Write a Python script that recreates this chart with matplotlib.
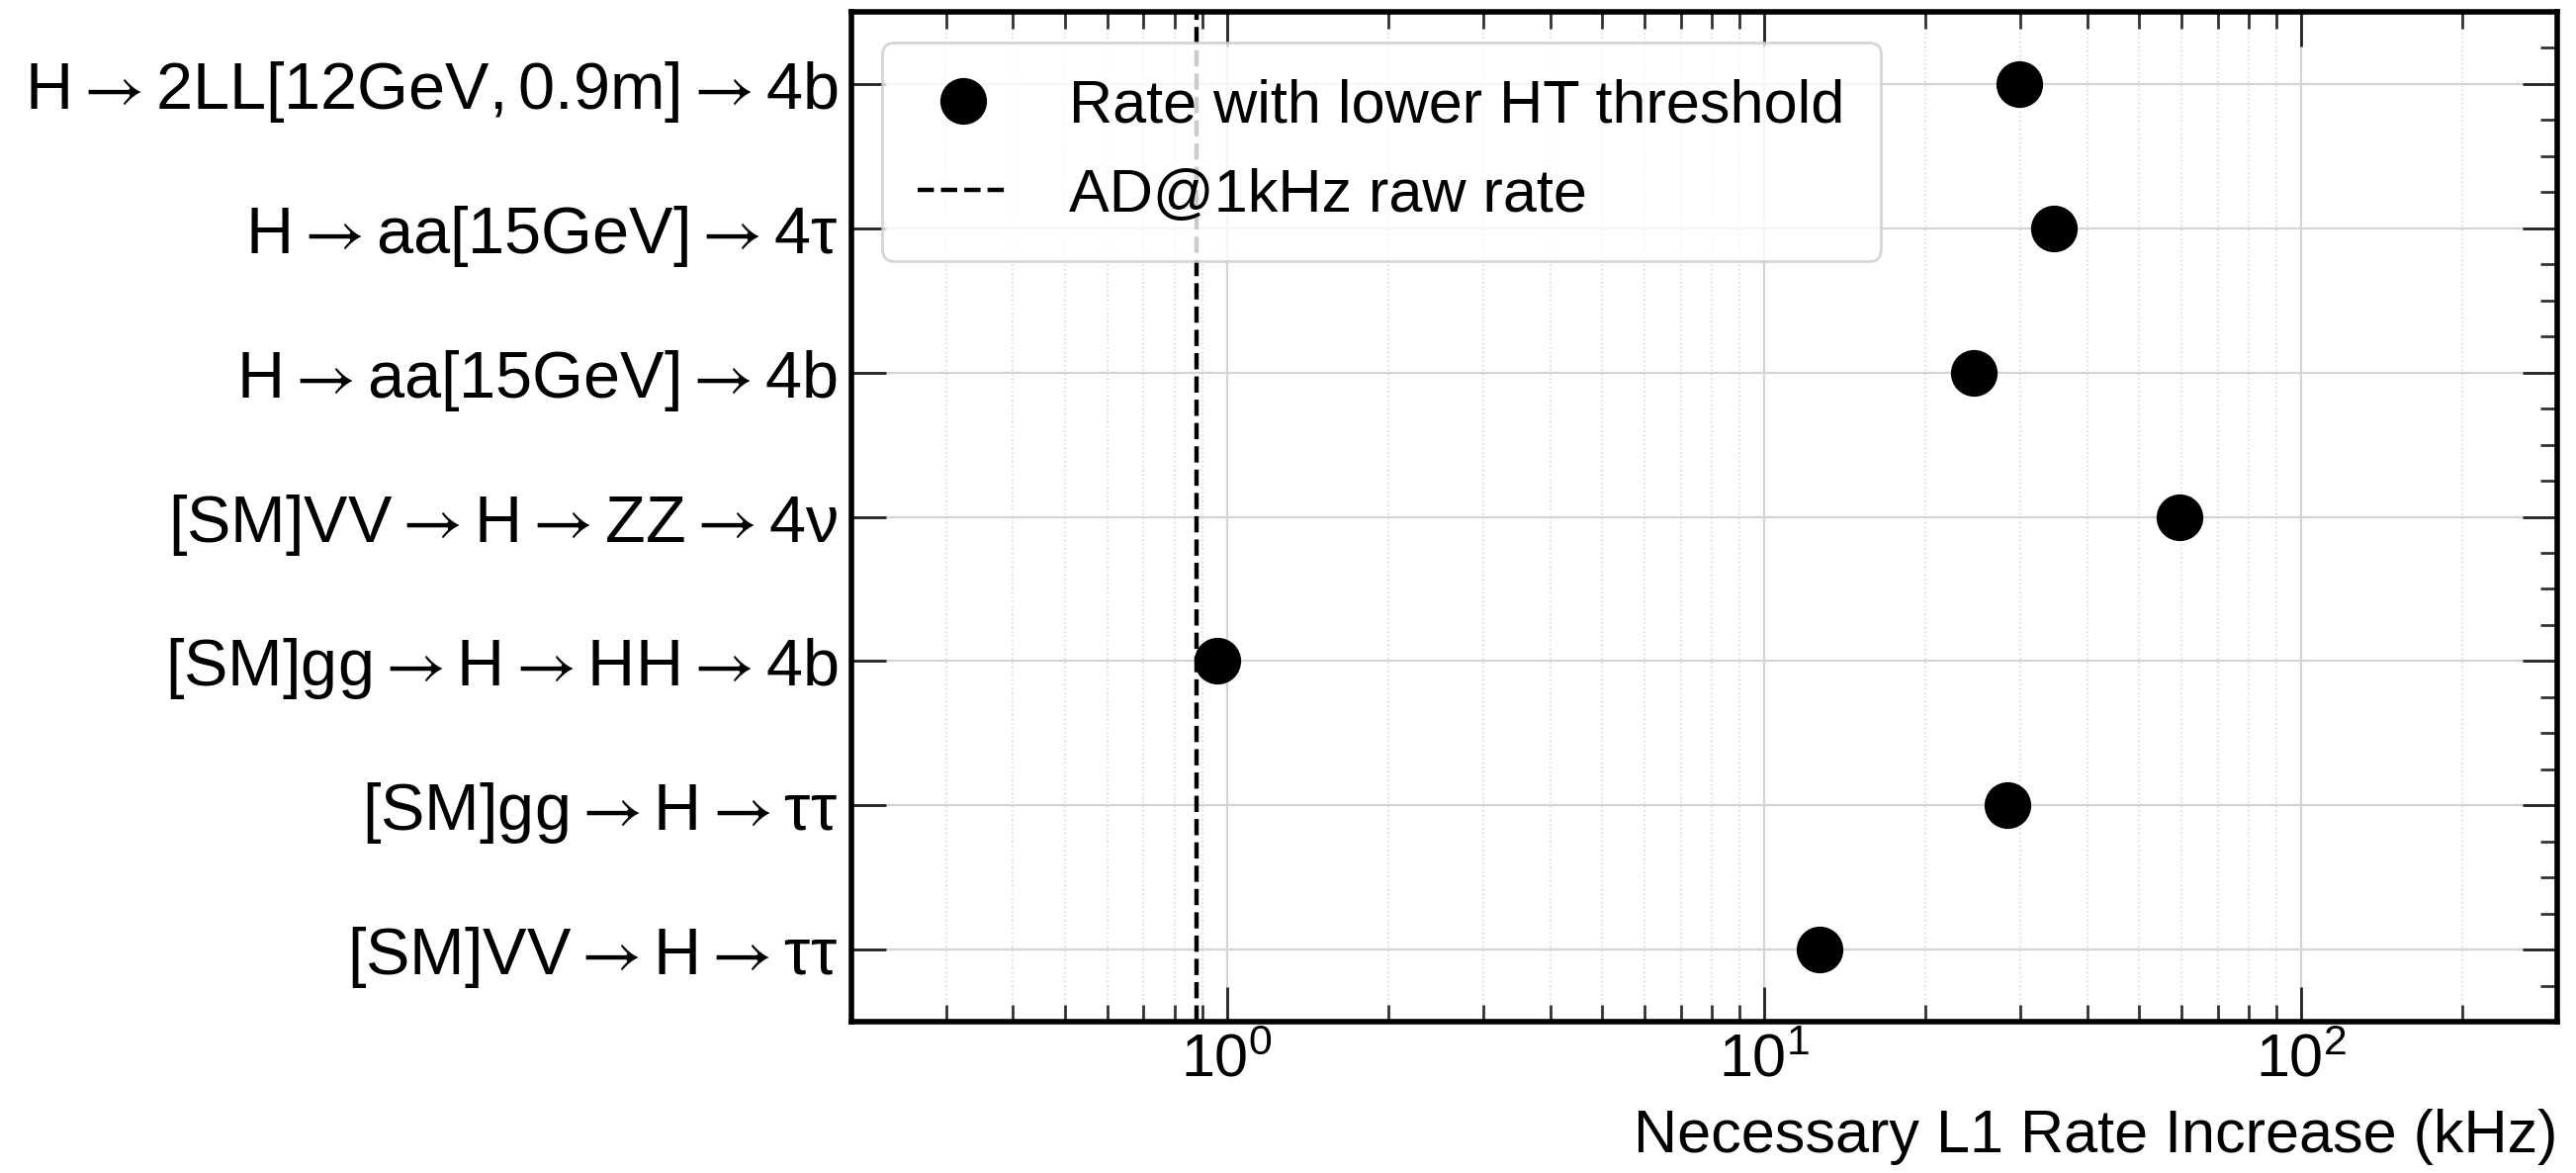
import matplotlib
matplotlib.use("Agg")
import matplotlib.pyplot as plt
from matplotlib.ticker import AutoMinorLocator, LogLocator, NullFormatter
import numpy as np

# ---- data ----
A = r"\mathsf{\rightarrow}"
categories = [
    r"$H " + A + r" 2LL[12GeV, 0.9m] " + A + r" 4b$",
    r"$H " + A + r" aa[15GeV] " + A + r" 4\tau$",
    r"$H " + A + r" aa[15GeV] " + A + r" 4b$",
    r"$[SM]VV " + A + r" H " + A + r" ZZ " + A + r" 4\nu$",
    r"$[SM]gg " + A + r" H " + A + r" HH " + A + r" 4b$",
    r"$[SM]gg " + A + r" H " + A + r" \tau\tau$",
    r"$[SM]VV " + A + r" H " + A + r" \tau\tau$",
]
rate_increase = [29.9, 34.7, 24.6, 59.3, 0.96, 28.4, 12.7]
ad_raw_rate = 0.88
series_label = "Rate with lower HT threshold"
line_label = "AD@1kHz raw rate"
x_label = "Necessary L1 Rate Increase (kHz)"

# ---- style ----
plt.rcParams["font.family"] = ["Liberation Sans", "DejaVu Sans"]
plt.rcParams["mathtext.fontset"] = "custom"
plt.rcParams["mathtext.rm"] = "Liberation Sans"
plt.rcParams["mathtext.it"] = "Liberation Sans"
plt.rcParams["mathtext.bf"] = "Liberation Sans:bold"
plt.rcParams["mathtext.sf"] = "STIXGeneral"

fig = plt.figure(figsize=(13.025, 5.93), dpi=200)
ax = fig.add_axes([861 / 2605, 1 - 1033 / 1186, (2586 - 861) / 2605, (1033 - 12) / 1186])

ypos = np.arange(len(categories))
ax.plot(rate_increase, ypos, "o", color="black", markersize=16, ls="none",
        label=series_label, zorder=3)
ax.axvline(ad_raw_rate, color="black", ls="--", lw=1.6, label=line_label, zorder=2)

ax.set_xscale("log")
ax.set_xlim(0.2, 300)
ax.set_ylim(len(categories) - 0.5, -0.5)

ax.set_yticks(ypos)
ax.set_yticklabels(categories, fontsize=24)
ax.yaxis.set_minor_locator(AutoMinorLocator(4))

ax.xaxis.set_major_locator(LogLocator(base=10, numticks=20))
ax.xaxis.set_minor_locator(LogLocator(base=10, subs=np.arange(2, 10), numticks=50))
ax.xaxis.set_minor_formatter(NullFormatter())

ax.tick_params(axis="both", which="major", direction="in", length=12.5, width=1.0,
               top=True, right=True, color="#222222")
ax.tick_params(axis="both", which="minor", direction="in", length=6, width=1.0,
               top=True, right=True, color="#333333")
ax.tick_params(axis="x", which="major", labelsize=22, pad=4)
ax.tick_params(axis="y", which="minor", left=False, right=True)
ax.tick_params(axis="y", which="major", pad=5)

for sp in ax.spines.values():
    sp.set_linewidth(2.0)

ax.grid(True, which="major", color="#d4d4d4", lw=0.8, ls="-", zorder=0)
ax.grid(True, which="minor", axis="x", color="#d9d9d9", lw=0.6, ls=":", zorder=0)
ax.set_axisbelow(True)

ax.set_xlabel(x_label, fontsize=22, loc="right", labelpad=7)

leg = ax.legend(loc="upper left", fontsize=22, frameon=True, framealpha=0.8,
                edgecolor="#cccccc", fancybox=True, handlelength=1.5,
                handletextpad=1.0, labelspacing=0.55, borderpad=0.6)

fig.savefig("out.png", dpi=200)
